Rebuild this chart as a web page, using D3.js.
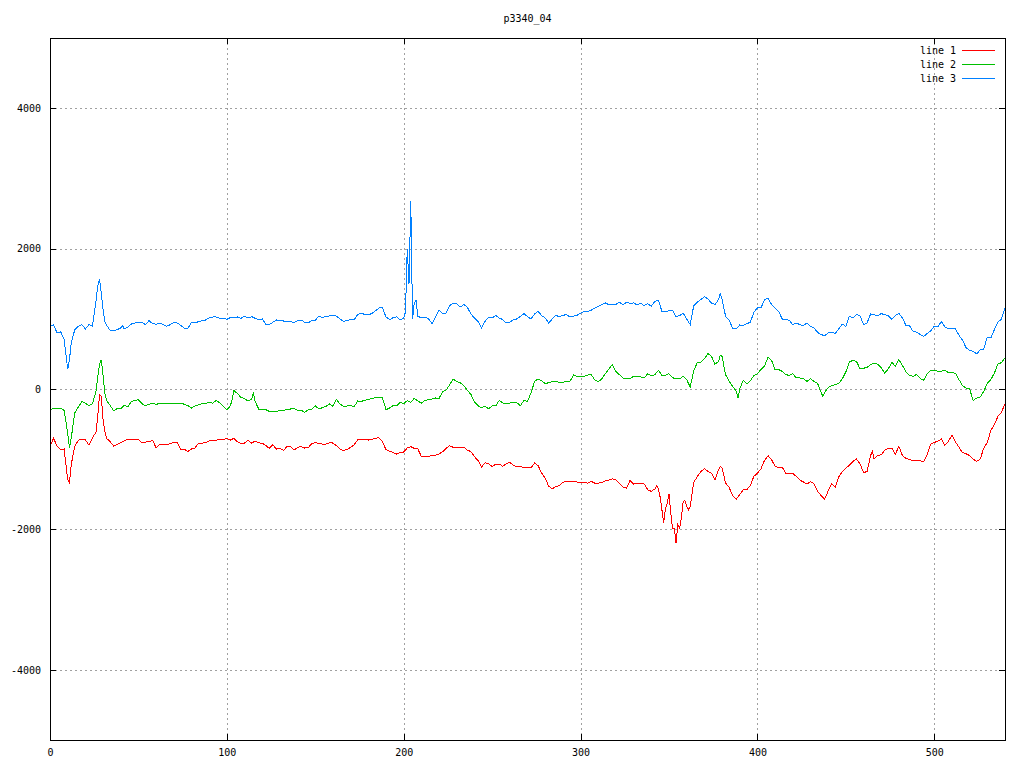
<!DOCTYPE html>
<html><head><meta charset="utf-8">
<script src="https://cdn.jsdelivr.net/npm/d3@7"></script>
<style>
body{margin:0;background:#fff}
svg{display:block}
text{font-family:"DejaVu Sans Mono",monospace;font-size:10px;fill:#000}
</style>
</head><body>
<svg id="chart" width="1024" height="768"></svg>
<script>
const chartTitle = "p3340_04";
const seriesNames = ["line 1", "line 2", "line 3"];
const xTicks = [0, 100, 200, 300, 400, 500];
const yTicks = [-4000, -2000, 0, 2000, 4000];
const xDomain = [0, 540];
const yDomain = [-5000, 5000];

// line 1 (red): [x, value]
const line1 = [[0,-817],[2,-703],[4,-812],[6,-865],[8,-855],[10,-1292],[11,-1340],[12,-1078],[14,-817],[16,-732],[18,-713],[20,-722],[22,-798],[24,-698],[26,-613],[27,-390],[28,-85],[29,-105],[30,-437],[31,-603],[32,-703],[34,-750],[36,-812],[38,-789],[40,-765],[42,-737],[44,-713],[46,-713],[48,-713],[50,-718],[52,-770],[54,-756],[56,-751],[58,-732],[60,-836],[62,-793],[64,-789],[66,-793],
[68,-779],[70,-760],[72,-760],[74,-865],[76,-860],[78,-888],[80,-855],[82,-841],[84,-770],[86,-770],[88,-765],[90,-737],[92,-741],[94,-732],[96,-713],[98,-718],[100,-708],[102,-727],[104,-703],[106,-751],[108,-779],[110,-770],[112,-732],[114,-770],[116,-741],[118,-765],[120,-774],[122,-803],[124,-846],[126,-793],[128,-855],[130,-846],[132,-874],[134,-822],
[136,-822],[138,-870],[140,-831],[142,-822],[144,-841],[146,-836],[148,-779],[150,-765],[152,-774],[154,-784],[156,-784],[158,-765],[160,-770],[162,-808],[164,-855],[166,-879],[168,-860],[170,-831],[172,-793],[174,-722],[176,-713],[178,-722],[180,-727],[182,-718],[184,-703],[186,-694],[188,-751],[190,-865],[192,-888],[194,-903],[196,-927],[198,-903],[200,-898],[202,-841],
[204,-822],[206,-846],[208,-855],[210,-960],[212,-964],[214,-960],[216,-945],[218,-941],[220,-927],[222,-893],[224,-846],[226,-808],[228,-831],[230,-831],[232,-836],[234,-827],[236,-870],[238,-893],[240,-964],[242,-1017],[244,-1112],[246,-1050],[248,-1064],[250,-1102],[252,-1074],[254,-1069],[256,-1102],[258,-1064],[260,-1045],[262,-1083],[264,-1112],[266,-1107],[268,-1117],[270,-1117],
[272,-1121],[274,-1055],[276,-1093],[278,-1197],[280,-1268],[282,-1387],[284,-1420],[286,-1392],[288,-1373],[290,-1330],[292,-1316],[294,-1325],[296,-1321],[298,-1325],[300,-1335],[302,-1335],[304,-1340],[306,-1316],[308,-1340],[310,-1340],[312,-1335],[314,-1311],[316,-1297],[318,-1278],[320,-1297],[322,-1349],[324,-1397],[326,-1411],[328,-1302],[330,-1354],[332,-1349],[334,-1340],[336,-1354],[338,-1435],
[340,-1458],[342,-1425],[343,-1378],[344,-1425],[345,-1539],[346,-1720],[347,-1910],[348,-1710],[349,-1625],[350,-1492],[351,-1767],[352,-1981],[353,-1981],[354,-2195],[355,-1933],[356,-1981],[357,-1838],[358,-1601],[359,-1587],[360,-1672],[361,-1720],[362,-1672],[364,-1330],[366,-1249],[368,-1178],[370,-1136],[372,-1173],[374,-1197],[376,-1292],[378,-1150],[379,-1102],[380,-1126],[382,-1340],[384,-1401],[386,-1520],[388,-1572],[390,-1506],[392,-1435],[394,-1435],[396,-1373],[398,-1245],[400,-1197],[402,-1140],[404,-1017],[406,-950],
[408,-1007],[410,-1102],[412,-1117],[414,-1112],[416,-1197],[418,-1197],[420,-1202],[422,-1245],[424,-1297],[426,-1325],[428,-1354],[430,-1321],[432,-1349],[434,-1458],[436,-1516],[438,-1568],[440,-1454],[442,-1344],[444,-1401],[446,-1254],[448,-1178],[450,-1131],[452,-1083],[454,-1031],[456,-998],[458,-1064],[460,-1188],[462,-1178],[464,-946],[465,-888],[466,-998],[468,-946],[470,-936],[472,-874],[474,-841],
[476,-841],[478,-927],[480,-817],[482,-950],[484,-988],[486,-1007],[488,-1017],[490,-1022],[492,-1022],[494,-1040],[496,-936],[498,-788],[500,-760],[502,-746],[504,-713],[506,-803],[508,-746],[510,-656],[512,-756],[514,-831],[516,-907],[518,-922],[520,-950],[522,-998],[524,-1031],[526,-998],[528,-841],[530,-760],[532,-589],[534,-504],[536,-390],[538,-333],[540,-209]];

// line 2 (green): [x, value]
const line2 = [[0,-295],[2,-276],[4,-285],[6,-276],[8,-304],[10,-627],[11,-840],[12,-700],[14,-342],[16,-257],[18,-181],[20,-200],[22,-238],[24,-209],[26,-33],[27,180],[28,356],[29,418],[30,195],[31,-57],[32,-162],[34,-233],[36,-309],[38,-280],[40,-280],[42,-233],[44,-252],[46,-181],[48,-162],[50,-152],[52,-209],[54,-238],[56,-218],[58,-200],[60,-223],[62,-200],[64,-214],[66,-209],
[68,-214],[70,-200],[72,-204],[74,-200],[76,-218],[78,-238],[80,-271],[82,-242],[84,-223],[86,-209],[88,-204],[90,-195],[92,-200],[94,-162],[96,-200],[98,-247],[100,-300],[102,-238],[103,-152],[104,-19],[106,-67],[108,-119],[110,-138],[112,-171],[114,-148],[115,-50],[116,-176],[118,-285],[120,-285],[122,-295],[124,-318],[126,-323],[128,-323],[130,-304],[132,-304],[134,-295],
[136,-285],[138,-280],[140,-304],[142,-300],[144,-333],[146,-295],[148,-290],[150,-238],[152,-285],[154,-266],[156,-247],[158,-214],[160,-247],[162,-148],[164,-214],[166,-247],[168,-242],[170,-233],[172,-252],[174,-171],[176,-176],[178,-162],[180,-148],[182,-138],[184,-119],[186,-124],[188,-128],[190,-295],[192,-271],[194,-238],[196,-238],[198,-190],[200,-209],[202,-166],
[204,-190],[206,-133],[208,-171],[210,-200],[212,-162],[214,-152],[216,-143],[218,-128],[220,-133],[222,-38],[224,-14],[226,62],[228,138],[230,109],[232,86],[234,48],[236,-19],[238,-76],[240,-185],[242,-238],[244,-266],[246,-247],[248,-280],[250,-242],[252,-242],[254,-162],[256,-200],[258,-200],[260,-200],[262,-185],[264,-195],[266,-238],[268,-162],[270,-176],
[272,-57],[274,109],[276,143],[278,119],[280,76],[282,90],[284,105],[286,105],[288,95],[290,95],[292,109],[294,109],[296,199],[298,176],[300,185],[302,180],[304,199],[306,204],[308,133],[310,105],[312,143],[314,218],[316,285],[318,347],[320,247],[322,204],[324,157],[326,143],[328,152],[330,180],[332,176],[334,171],[336,157],[338,218],
[340,190],[342,204],[344,266],[346,195],[348,195],[350,218],[352,162],[354,143],[356,143],[358,180],[360,133],[362,29],[364,261],[366,375],[368,380],[370,428],[372,504],[374,466],[376,352],[378,394],[379,480],[380,466],[382,204],[384,114],[386,38],[388,-33],[389,-128],[390,0],[392,124],[394,71],[396,119],[398,190],[400,218],[402,280],[404,323],[406,456],
[408,409],[410,276],[412,276],[414,252],[416,204],[418,195],[420,218],[422,157],[424,157],[426,147],[428,109],[430,147],[432,109],[434,81],[436,-48],[437,-105],[438,-48],[440,19],[442,48],[444,62],[446,81],[448,143],[450,242],[452,385],[454,409],[456,394],[458,290],[460,295],[462,309],[464,347],[466,366],[468,352],[470,304],[472,228],[474,285],
[476,380],[478,323],[480,418],[482,333],[484,247],[486,195],[488,180],[490,209],[492,152],[494,124],[496,218],[498,266],[500,266],[502,252],[504,252],[506,266],[508,233],[510,233],[512,223],[514,133],[516,48],[518,14],[520,0],[522,-162],[524,-128],[526,-114],[528,-33],[530,81],[532,133],[534,228],[536,356],[538,375],[540,442]];

// line 3 (blue): [x, value]
const line3 = [[0,893],[2,917],[4,798],[6,817],[8,703],[9,500],[10,280],[11,418],[12,650],[14,846],[16,893],[18,917],[20,855],[22,917],[24,893],[26,1249],[27,1463],[28,1568],[29,1368],[30,1131],[31,964],[32,907],[34,836],[36,831],[38,846],[40,869],[41,903],[42,855],[44,884],[46,926],[48,940],[50,950],[52,950],[54,917],[56,974],[58,931],[60,922],[62,940],[64,917],[66,893],
[68,917],[70,950],[72,940],[74,903],[76,865],[78,865],[80,950],[82,940],[84,960],[86,974],[88,983],[90,1012],[92,1026],[94,1026],[96,1007],[98,1007],[100,993],[102,1017],[104,1012],[106,1026],[108,1007],[110,1036],[112,1012],[114,1031],[116,1007],[118,988],[120,998],[122,922],[124,917],[126,950],[128,983],[130,974],[132,969],[134,955],
[136,964],[138,945],[140,974],[142,983],[144,950],[146,940],[148,979],[150,979],[152,1036],[154,1021],[156,1031],[158,1040],[160,1055],[162,1036],[164,998],[166,964],[168,974],[170,988],[172,988],[174,1059],[176,1083],[178,1059],[180,1059],[182,1074],[184,1112],[186,1154],[188,1154],[190,1026],[192,988],[194,1017],[196,1026],[198,988],[200,1007],
[201,1100],[202,2000],[203,1500],[204,2680],[205,1000],[206,1230],[207,1260],[208,1036],
[210,1012],[212,1026],[214,1003],[216,930],[218,1031],[220,1126],[222,1074],[224,1083],[226,1188],[228,1221],[230,1211],[232,1169],[234,1202],[236,1164],[238,1069],[240,1012],[242,964],[244,870],[246,964],[248,1017],[250,1012],[252,1050],[254,1012],[256,988],[258,940],[260,950],[262,988],[264,998],[266,1036],[268,1074],[270,1031],
[272,998],[274,1069],[276,1107],[278,1045],[280,1012],[282,940],[284,998],[286,1055],[288,1026],[290,1050],[292,1059],[294,1026],[296,1036],[298,1050],[300,1079],[302,1107],[304,1107],[306,1121],[308,1154],[310,1178],[312,1202],[314,1226],[316,1202],[318,1202],[320,1207],[322,1235],[324,1202],[326,1235],[328,1221],[330,1226],[332,1197],[334,1221],[336,1188],[338,1216],
[340,1178],[342,1249],[344,1264],[346,1107],[348,1107],[350,1112],[352,1121],[354,1031],[356,1045],[358,1083],[360,998],[362,917],[364,1188],[366,1235],[368,1273],[370,1316],[372,1283],[374,1226],[376,1202],[378,1273],[379,1359],[380,1283],[382,1036],[384,979],[386,865],[388,855],[390,912],[392,903],[394,931],[396,950],[398,1093],[400,1154],[402,1154],[404,1273],[406,1297],
[408,1202],[410,1154],[412,1107],[414,998],[416,988],[418,979],[420,917],[422,940],[424,917],[426,903],[428,940],[430,893],[432,869],[434,808],[436,775],[438,760],[440,798],[442,808],[444,789],[446,855],[448,926],[450,893],[452,1036],[454,1012],[456,1059],[458,1045],[460,917],[462,940],[464,1069],[466,1059],[468,1045],[470,1074],[472,1059],[474,1045],
[476,990],[478,1045],[480,1079],[482,1012],[484,903],[486,903],[488,822],[490,808],[492,779],[494,750],[496,789],[498,827],[500,893],[502,884],[504,964],[506,884],[508,860],[510,865],[512,855],[514,765],[516,694],[518,589],[520,551],[522,537],[524,499],[526,560],[528,570],[530,741],[532,727],[534,846],[536,950],[538,998],[540,1154]];

const seriesData = [line1, line2, line3];
const seriesColors = ["#ff0000", "#00c000", "#0080ff"];

const L = 50, R = 1005, T = 38, B = 740;
const svg = d3.select("#chart");
svg.append("rect").attr("width", 1024).attr("height", 768).attr("fill", "#fff");

const x = d3.scaleLinear().domain(xDomain).range([L, R]);
const y = d3.scaleLinear().domain(yDomain).range([B, T]);
const fmt = d => String(d);

// grid
const grid = svg.append("g").attr("stroke", "#a0a0a0").attr("stroke-dasharray", "2,3")
  .attr("shape-rendering", "crispEdges");
grid.selectAll("line.gy").data(yTicks).join("line")
  .attr("x1", L).attr("x2", R).attr("y1", d => Math.round(y(d)) + 0.5).attr("y2", d => Math.round(y(d)) + 0.5);
grid.selectAll("line.gx").data(xTicks.filter(d => d > xDomain[0])).join("line")
  .attr("y1", T).attr("y2", B).attr("x1", d => Math.round(x(d)) + 0.5).attr("x2", d => Math.round(x(d)) + 0.5);

// series
const lineGen = d3.line().x(d => x(d[0])).y(d => y(d[1]));
seriesData.forEach((data, i) => {
  svg.append("path").datum(data).attr("d", lineGen)
    .attr("fill", "none").attr("stroke", seriesColors[i]).attr("stroke-width", 1)
    .attr("shape-rendering", "crispEdges");
});

// axes with inward ticks
const tick = 6;
const axL = svg.append("g").attr("transform", `translate(${L},0)`)
  .call(d3.axisLeft(y).tickValues(yTicks).tickFormat(fmt).tickSizeInner(-tick).tickSizeOuter(0).tickPadding(9));
const axR = svg.append("g").attr("transform", `translate(${R},0)`)
  .call(d3.axisRight(y).tickValues(yTicks).tickFormat("").tickSizeInner(-tick).tickSizeOuter(0));
const axB = svg.append("g").attr("transform", `translate(0,${B})`)
  .call(d3.axisBottom(x).tickValues(xTicks).tickFormat(fmt).tickSizeInner(-tick).tickSizeOuter(0).tickPadding(9));
const axT = svg.append("g").attr("transform", `translate(0,${T})`)
  .call(d3.axisTop(x).tickValues(xTicks).tickFormat("").tickSizeInner(-tick).tickSizeOuter(0));
[axL, axR, axB, axT].forEach(a => {
  a.select(".domain").remove();
  a.selectAll(".tick line").attr("stroke", "#000").attr("shape-rendering", "crispEdges");
  a.selectAll("text").attr("font-family", "DejaVu Sans Mono, monospace").attr("font-size", 10).attr("fill", "#000");
});

// border
svg.append("rect").attr("x", L + 0.5).attr("y", T + 0.5).attr("width", R - L).attr("height", B - T)
  .attr("fill", "none").attr("stroke", "#000").attr("shape-rendering", "crispEdges");

// title
svg.append("text").attr("x", (L + R) / 2).attr("y", 22).attr("text-anchor", "middle").text(chartTitle);

// legend
const leg = svg.append("g");
const legRows = [50, 64, 78];
seriesNames.forEach((name, i) => {
  leg.append("text").attr("x", 956).attr("y", legRows[i]).attr("dy", "0.35em")
    .attr("text-anchor", "end").text(name);
  leg.append("line").attr("x1", 962).attr("x2", 995)
    .attr("y1", legRows[i] + 0.5).attr("y2", legRows[i] + 0.5)
    .attr("stroke", seriesColors[i]).attr("shape-rendering", "crispEdges");
});
</script>
</body></html>
